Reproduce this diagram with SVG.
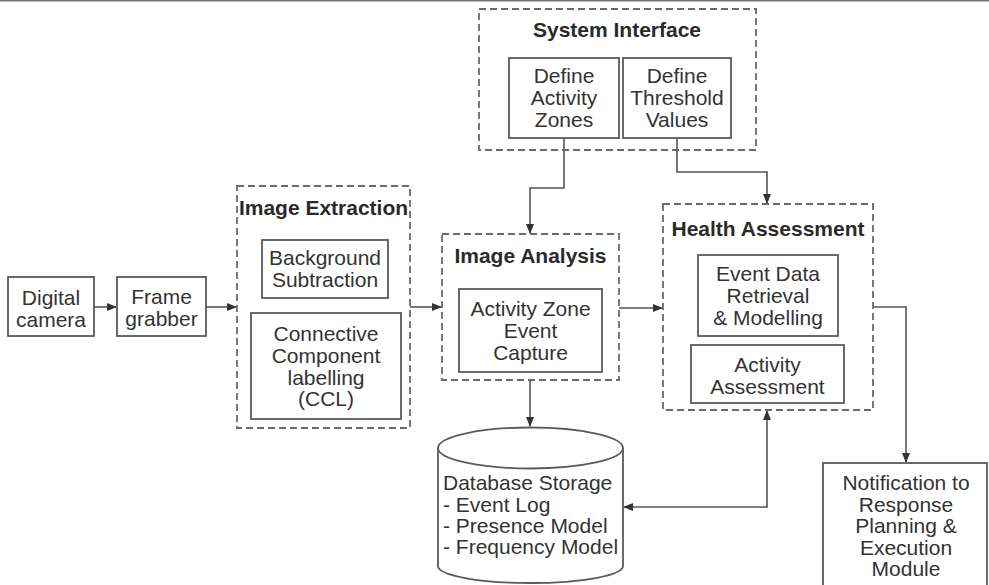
<svg xmlns="http://www.w3.org/2000/svg" width="989" height="585" viewBox="0 0 989 585">
<defs>
<style>
.box{fill:#fff;stroke:#5a5a5a;stroke-width:1.8}
.dash{fill:none;stroke:#6a6a6a;stroke-width:1.8;stroke-dasharray:7 4}
.t{font-family:"Liberation Sans",Arial,sans-serif;font-size:21px;fill:#333;text-anchor:middle}
.b{font-weight:bold;fill:#2a2a2a}
.l{text-anchor:start}
.c{fill:none;stroke:#555;stroke-width:1.6}
</style>
<marker id="ah" markerWidth="10" markerHeight="8" refX="9" refY="4" orient="auto-start-reverse" markerUnits="userSpaceOnUse">
<path d="M0,0 L10,4 L0,8 Z" fill="#333"/>
</marker>
</defs>
<rect width="989" height="585" fill="#fff"/>
<line x1="0" y1="0.8" x2="989" y2="0.8" stroke="#777" stroke-width="1.6"/>

<g id="connectors">
<path class="c" d="M94,307 H116" marker-end="url(#ah)"/>
<path class="c" d="M206,307 H236" marker-end="url(#ah)"/>
<path class="c" d="M410,307 H441" marker-end="url(#ah)"/>
<path class="c" d="M619,308 H662" marker-end="url(#ah)"/>
<path class="c" d="M564,138 V188 H530 V233" marker-end="url(#ah)"/>
<path class="c" d="M677,138 V172 H767 V203" marker-end="url(#ah)"/>
<path class="c" d="M530,380 V426" marker-end="url(#ah)"/>
<path class="c" d="M873,307 H906 V462" marker-end="url(#ah)"/>
<path class="c" d="M624,507 H767 V411" marker-start="url(#ah)" marker-end="url(#ah)"/>
</g>

<g id="camera">
<rect class="box" x="8" y="277" width="86" height="59"/>
<text class="t" x="51" y="305">Digital</text>
<text class="t" x="51" y="327">camera</text>
</g>

<g id="frame-grabber">
<rect class="box" x="117" y="277" width="89" height="59"/>
<text class="t" x="161.5" y="304">Frame</text>
<text class="t" x="161.5" y="326">grabber</text>
</g>

<g id="image-extraction">
<rect class="dash" x="237" y="186" width="173" height="242"/>
<text class="t b" x="323.5" y="215">Image Extraction</text>
<g id="background-subtraction">
<rect class="box" x="262" y="240" width="126" height="58"/>
<text class="t" x="325" y="265">Background</text>
<text class="t" x="325" y="287">Subtraction</text>
</g>
<g id="ccl">
<rect class="box" x="251" y="313" width="150" height="106"/>
<text class="t" x="326" y="341">Connective</text>
<text class="t" x="326" y="363">Component</text>
<text class="t" x="326" y="385">labelling</text>
<text class="t" x="326" y="406">(CCL)</text>
</g>
</g>

<g id="system-interface">
<rect class="dash" x="479" y="9" width="277" height="141"/>
<text class="t b" x="617" y="37">System Interface</text>
<g id="define-zones">
<rect class="box" x="509" y="58" width="110" height="80"/>
<text class="t" x="564" y="83">Define</text>
<text class="t" x="564" y="105">Activity</text>
<text class="t" x="564" y="127">Zones</text>
</g>
<g id="define-threshold">
<rect class="box" x="623" y="58" width="108" height="80"/>
<text class="t" x="677" y="83">Define</text>
<text class="t" x="677" y="105">Threshold</text>
<text class="t" x="677" y="127">Values</text>
</g>
</g>

<g id="image-analysis">
<rect class="dash" x="442" y="234" width="177" height="146"/>
<text class="t b" x="530.5" y="263">Image Analysis</text>
<g id="zone-capture">
<rect class="box" x="459" y="289" width="143" height="83"/>
<text class="t" x="530.5" y="316">Activity Zone</text>
<text class="t" x="530.5" y="338">Event</text>
<text class="t" x="530.5" y="360">Capture</text>
</g>
</g>

<g id="health-assessment">
<rect class="dash" x="663" y="204" width="210" height="206"/>
<text class="t b" x="768" y="236">Health Assessment</text>
<g id="event-data">
<rect class="box" x="698" y="255" width="140" height="81"/>
<text class="t" x="768" y="281">Event Data</text>
<text class="t" x="768" y="303">Retrieval</text>
<text class="t" x="768" y="325">&amp; Modelling</text>
</g>
<g id="activity-assessment">
<rect class="box" x="691" y="345" width="153" height="58"/>
<text class="t" x="767.5" y="372">Activity</text>
<text class="t" x="767.5" y="394">Assessment</text>
</g>
</g>

<g id="database">
<path class="box" d="M438,448 V566 A92.5,17 0 0 0 623,566 V448"/>
<ellipse class="box" cx="530.5" cy="448" rx="92.5" ry="20.5"/>
<text class="t l" x="443" y="490">Database Storage</text>
<text class="t l" x="443" y="512">- Event Log</text>
<text class="t l" x="443" y="533">- Presence Model</text>
<text class="t l" x="443" y="554">- Frequency Model</text>
</g>

<g id="notification">
<rect class="box" x="823" y="463" width="164" height="130"/>
<text class="t" x="906" y="490">Notification to</text>
<text class="t" x="906" y="512">Response</text>
<text class="t" x="906" y="533">Planning &amp;</text>
<text class="t" x="906" y="555">Execution</text>
<text class="t" x="906" y="576">Module</text>
</g>
</svg>
